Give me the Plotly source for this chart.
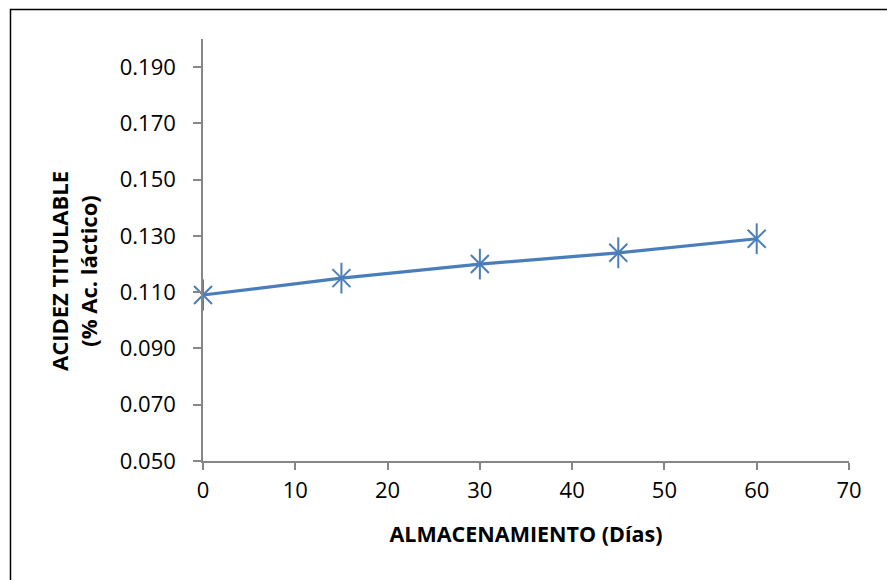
import plotly.graph_objects as go

# Storage time (days) and titratable acidity (% lactic acid)
dias = [0, 15, 30, 45, 60]
acidez = [0.109, 0.115, 0.120, 0.124, 0.129]

x_ticks = [0, 10, 20, 30, 40, 50, 60, 70]
y_ticks = [0.050, 0.070, 0.090, 0.110, 0.130, 0.150, 0.170, 0.190]

LINE_BLUE = "#4A7EBB"
AXIS_GRAY = "#868686"
FONT = "Open Sans"

fig = go.Figure()

# Line with the diagonal strokes of the star marker
fig.add_trace(go.Scatter(
    x=dias, y=acidez, mode="lines+markers", cliponaxis=False,
    line=dict(color=LINE_BLUE, width=3.2),
    marker=dict(symbol="x-thin-open", size=18, color=LINE_BLUE,
                line=dict(color=LINE_BLUE, width=2)),
    showlegend=False, hoverinfo="x+y",
))
# Vertical stroke of the star marker
fig.add_trace(go.Scatter(
    x=dias, y=acidez, mode="markers", cliponaxis=False,
    marker=dict(symbol="line-ns-open", size=22, color=LINE_BLUE,
                line=dict(color=LINE_BLUE, width=2)),
    showlegend=False, hoverinfo="skip",
))

fig.update_layout(
    width=887, height=580,
    margin=dict(l=203, r=38, t=39, b=119),
    paper_bgcolor="white", plot_bgcolor="white",
    font=dict(family=FONT, color="black"),
    xaxis=dict(
        range=[0, 70], tickvals=x_ticks, ticktext=[str(v) for v in x_ticks],
        showgrid=False, zeroline=False, showline=True,
        linecolor=AXIS_GRAY, linewidth=1.5,
        ticks="outside", ticklen=7, tickwidth=1.5, tickcolor=AXIS_GRAY,
        tickfont=dict(size=22, family=FONT), ticklabelstandoff=2,
        title=dict(text="<b>ALMACENAMIENTO (Días)</b>",
                   font=dict(size=21.5, family=FONT), standoff=24),
    ),
    yaxis=dict(
        range=[0.050, 0.200], tickvals=y_ticks,
        ticktext=[f"{v:.3f}" for v in y_ticks],
        showgrid=False, zeroline=False, showline=True,
        linecolor=AXIS_GRAY, linewidth=1.5,
        ticks="outside", ticklen=8, tickwidth=1.5, tickcolor=AXIS_GRAY,
        tickfont=dict(size=22, family=FONT), ticklabelstandoff=13,
    ),
    shapes=[dict(
        type="rect", xref="paper", yref="paper",
        x0=-0.298, x1=1.3, y0=-0.5, y1=1.070,
        line=dict(color="black", width=1.5), fillcolor="rgba(0,0,0,0)",
        layer="below",
    )],
    annotations=[dict(
        text="<b>ACIDEZ TITULABLE</b><br><b>(% Ac. láctico)</b>",
        xref="paper", yref="paper",
        x=(73 - 203) / 646, y=(461 - 271) / 422,
        xanchor="center", yanchor="middle",
        textangle=-90, showarrow=False,
        font=dict(size=22, family=FONT, color="black"),
    )],
)

fig.write_html("out.html")
